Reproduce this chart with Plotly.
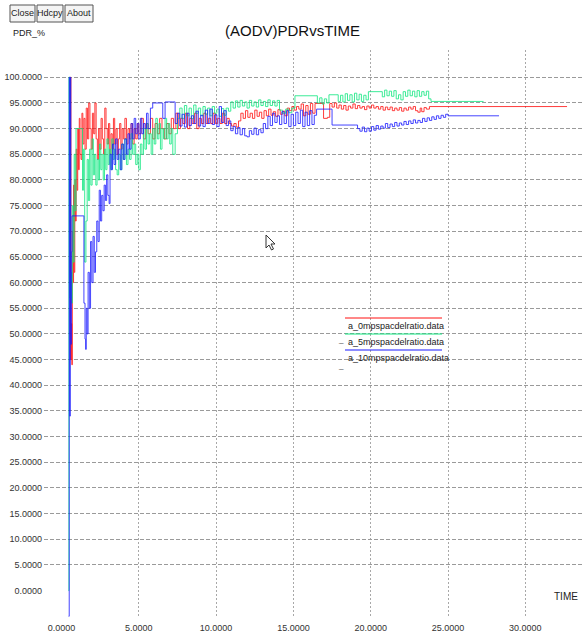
import plotly.graph_objects as go

# ---- data: PDR (%) over simulation time for three node speeds ----
names = ["a_0mpspacdelratio.data", "a_5mpspacdelratio.data", "a_10mpspacdelratio.data"]
colors = ["#ff1010", "#10e880", "#1a1aff"]

t_0mps = [0.56, 0.58, 0.61, 0.64, 0.67, 0.70, 0.74, 0.78, 0.82, 0.86, 0.90, 0.95, 1.00, 1.05, 1.10, 1.15,
          1.20, 1.26, 1.32, 1.38, 1.45, 1.52, 1.60, 1.68, 1.76, 1.84, 1.92, 2.00, 2.08, 2.16, 2.24, 2.32,
          2.40, 2.48, 2.56, 2.64, 2.72, 2.80, 2.88, 2.96, 3.04, 3.12, 3.20, 3.28, 3.36, 3.44, 3.52, 3.60,
          3.68, 3.76, 3.84, 3.92, 4.00, 4.10, 4.20, 4.30, 4.40, 4.50, 4.60, 4.70, 4.80, 4.90, 5.00, 5.15,
          5.30, 5.45, 5.60, 5.75, 5.90, 6.05, 6.20, 6.35, 6.50, 6.65, 6.80, 6.95, 7.10, 7.25, 7.40, 7.55,
          7.70, 7.85, 8.00, 8.15, 8.30, 8.45, 8.60, 8.75, 8.90, 9.05, 9.20, 9.35, 9.50, 9.65, 9.80, 9.95,
          10.10, 10.25, 10.40, 10.55, 10.70, 10.85, 11.00, 11.15, 11.30, 11.45, 11.60, 11.75, 11.90, 12.05,
          12.20, 12.35, 12.50, 12.65, 12.80, 12.95, 13.10, 13.25, 13.40, 13.55, 13.70, 13.85, 14.00, 14.15,
          14.30, 14.45, 14.60, 14.75, 14.90, 15.05, 15.20, 15.35, 15.50, 15.65, 15.80, 15.95, 16.10, 16.25,
          16.40, 16.85, 16.95, 17.20, 17.35, 17.50, 17.65, 17.80, 17.95, 18.10, 18.25, 18.40, 18.55, 18.70,
          18.85, 19.00, 19.15, 19.30, 19.45, 19.60, 19.75, 19.90, 20.05, 20.20, 20.35, 20.50, 20.65, 20.80,
          20.95, 21.10, 21.25, 21.40, 21.55, 21.70, 21.85, 22.00, 22.15, 22.30, 22.45, 22.60, 22.75, 22.90,
          23.05, 23.20, 23.30, 23.45, 23.60, 23.80, 32.70]
pdr_0mps = [45, 100, 45, 52, 44, 70, 60, 79, 62, 80, 72, 86, 78, 90, 82, 92,
            85, 84, 93, 87, 92, 86, 94, 88, 95, 90, 86, 93, 89, 95, 88, 84,
            90, 86, 92, 88, 85, 94, 90, 87, 91, 85, 89, 86, 92, 87, 90, 85,
            88, 91, 86, 90, 88, 92, 87, 90, 88, 91, 87, 90, 88, 91, 89, 92,
            88, 91, 89, 92, 88, 91, 89, 92, 90, 88, 91, 89, 92, 90, 93, 90,
            92, 91, 93, 90, 92, 91, 93, 90, 92, 91, 93, 91, 92, 91, 93, 91,
            92, 91, 93, 91, 92, 91, 90.5, 91, 90.3, 91.5, 93, 92, 93.5, 92.2,
            93, 92, 93.6, 92.4, 93.2, 92, 93.5, 92.5, 93.8, 92.6, 93.3, 92.4, 93.7, 92.8,
            93.4, 92.5, 94, 93.5, 94.3, 93.6, 94.3, 93.8, 94.8, 92.5, 94.5, 92.8, 94.9, 93,
            94.9, 94.9, 92, 92.2, 94.9, 94.2, 95, 94, 94.6, 93.8, 94.5, 93.6, 94.4, 94,
            94.8, 93.9, 94.5, 94, 94.3, 93.7, 94.4, 94, 94.6, 94, 94.3, 93.8, 94.3, 93.6,
            94.2, 93.7, 94.2, 93.5, 94, 93.6, 94.1, 93.4, 94, 93.6, 94.2, 93.8, 94.3, 93.5,
            93.2, 94, 93.3, 94.1, 93.8, 94.3, 94.3]

t_5mps = [0.45, 0.48, 0.54, 0.60, 0.65, 0.70, 0.76, 0.82, 0.88, 0.94, 1.30, 1.36, 1.42, 1.50, 1.58, 1.66,
          1.74, 1.82, 1.90, 1.98, 2.06, 2.14, 2.22, 2.30, 2.38, 2.46, 2.54, 2.62, 2.70, 2.78, 2.86, 2.94,
          3.02, 3.10, 3.18, 3.26, 3.34, 3.42, 3.50, 3.60, 3.70, 3.80, 3.90, 4.00, 4.10, 4.20, 4.30, 4.40,
          4.50, 4.60, 4.70, 4.80, 4.90, 5.00, 5.10, 5.20, 5.30, 5.40, 5.50, 5.60, 5.70, 5.80, 5.90, 6.00,
          6.10, 6.20, 6.30, 6.40, 6.50, 6.60, 6.70, 6.80, 6.90, 7.00, 7.10, 7.20, 7.35, 7.50, 7.65, 7.80,
          7.95, 8.10, 8.25, 8.40, 8.55, 8.70, 8.85, 9.00, 9.15, 9.30, 9.45, 9.60, 9.75, 9.90, 10.05, 10.20,
          10.35, 10.50, 10.65, 10.80, 10.95, 11.10, 11.25, 11.40, 11.55, 11.70, 11.85, 12.00, 12.15, 12.30,
          12.45, 12.60, 12.75, 12.90, 13.05, 13.20, 13.35, 13.50, 13.65, 13.80, 13.95, 14.10, 14.30, 14.50,
          14.70, 14.90, 15.10, 16.40, 16.55, 16.70, 16.85, 17.00, 17.15, 17.30, 17.75, 17.90, 18.05, 18.20,
          18.35, 18.50, 18.65, 18.80, 18.95, 19.10, 19.25, 19.40, 19.55, 19.70, 19.85, 20.60, 20.75, 20.90,
          21.05, 21.20, 21.35, 21.50, 21.65, 21.80, 21.95, 22.10, 22.25, 22.40, 22.55, 22.70, 22.85, 23.00,
          23.15, 23.30, 23.45, 23.60, 23.75, 23.90, 27.30]
pdr_5mps = [0, 100, 57, 62, 56, 75, 64, 85, 74, 90, 90, 78, 86, 64, 72, 84,
            76, 86, 79, 88, 81, 85, 79, 84, 80, 87, 82, 85, 80, 86, 82, 88,
            83, 86, 82, 88, 84, 86, 82, 81, 85, 82, 87, 84, 88, 83, 86, 84,
            89, 85, 87, 83, 85, 82, 87, 85, 90, 86, 91, 87, 89, 85, 90, 87,
            92, 88, 91, 86, 90, 88, 92, 88, 91, 87, 90, 85, 89, 92, 94, 92,
            94.5, 92.5, 94, 92, 94.6, 93, 94, 92.5, 94.3, 92.8, 94, 92.5, 94.3, 93, 93.8, 92.4,
            93.9, 92.6, 94, 93.4, 95.2, 94, 95.4, 94.2, 95.5, 94.4, 95.2, 94, 95.5, 94.4,
            95.2, 94.2, 95.6, 94.5, 95.3, 94.3, 95.6, 94.5, 95.4, 94.4, 95.5, 93.6, 93, 93.8,
            93.1, 94, 96.4, 96.4, 95, 96, 94.8, 95.8, 95, 96.6, 96.6, 95.3, 96.5, 95.2,
            96.8, 95.5, 96.6, 95.2, 96.9, 95.6, 96.7, 95.3, 96.5, 95.6, 97.2, 97.2, 96.2, 97.5,
            96.4, 97.3, 96.3, 97.4, 95.8, 96.6, 95.6, 97.2, 96.3, 97.5, 96.4, 97.3, 96.2, 97.4,
            96.3, 97.2, 96.5, 97.3, 95.8, 95.3, 95.3]

t_10mps = [0.46, 0.50, 0.53, 0.57, 0.60, 0.64, 0.68, 1.26, 1.45, 1.52, 1.56, 1.60, 1.66, 1.72, 1.80, 1.88,
           1.96, 2.04, 2.12, 2.20, 2.28, 2.36, 2.44, 2.52, 2.60, 2.68, 2.76, 2.84, 2.92, 3.00, 3.08, 3.14,
           3.22, 3.30, 3.40, 3.50, 3.60, 3.70, 3.80, 3.90, 4.00, 4.10, 4.20, 4.30, 4.40, 4.50, 4.60, 4.70,
           4.80, 4.90, 5.00, 5.10, 5.20, 5.30, 5.40, 5.50, 5.60, 5.75, 5.90, 6.40, 6.55, 6.70, 7.20, 7.35,
           7.50, 7.65, 7.80, 7.95, 8.10, 8.25, 8.40, 8.55, 8.70, 8.85, 9.00, 9.15, 9.30, 9.45, 9.60, 9.75,
           9.90, 10.05, 10.20, 10.35, 10.50, 10.65, 10.80, 10.95, 11.10, 11.25, 11.40, 11.55, 11.70, 11.85,
           12.00, 12.15, 12.30, 12.45, 12.60, 12.75, 12.90, 13.05, 13.20, 13.35, 13.50, 13.65, 13.80, 13.95,
           14.10, 14.25, 14.40, 14.55, 14.70, 14.85, 15.00, 15.15, 15.30, 15.45, 15.60, 15.75, 15.90, 16.05,
           16.20, 16.35, 16.50, 17.40, 17.50, 19.00, 19.15, 19.30, 19.45, 19.60, 19.75, 19.90, 20.05, 20.20,
           20.35, 20.50, 20.65, 20.80, 20.95, 21.10, 21.25, 21.40, 21.55, 21.70, 21.85, 22.00, 22.15, 22.30,
           22.45, 22.60, 22.75, 22.90, 23.05, 23.20, 23.35, 23.50, 23.65, 23.80, 23.95, 24.10, 24.25, 24.40,
           24.55, 24.70, 24.85, 25.00, 28.30]
pdr_10mps = [-5, 100, 34, 100, 48, 66, 73, 73, 56, 49, 47, 55, 50, 62, 55, 68,
             60, 69, 62, 66, 72, 68, 78, 72, 77, 74, 79, 76, 81, 77, 75.4, 85,
             82, 87, 83, 88, 84, 86, 82, 87, 84, 88, 85, 89, 86, 91, 88, 92,
             89, 91, 88, 92, 89, 91, 90, 93, 90, 94, 95, 95, 92, 95.2, 95.2, 91,
             93, 90.5, 92.8, 90.3, 93, 90.6, 92.5, 91, 93.4, 90.5, 92.6, 90.4, 93.6, 91, 93.8, 90.8,
             92.7, 90.4, 94.3, 91.2, 93.5, 90.6, 91.5, 89.6, 90.4, 89, 90.2, 88.8, 90, 88.6,
             88.4, 89.6, 88.9, 90.1, 88.8, 89.8, 89.2, 91, 90, 92.4, 90.6, 93, 91.2, 92.5,
             90.8, 93.3, 91, 93.5, 90.4, 92.8, 90.6, 93.2, 91, 93.6, 90.4, 93.2, 90.6, 93.5,
             90.8, 92.6, 93.8, 93.8, 90.7, 90.7, 90, 89.5, 90.3, 89.4, 90.1, 89.5, 90.4, 89.7,
             90.6, 89.9, 90.5, 90.1, 91, 90.2, 90.9, 90.4, 91.2, 90.5, 91.1, 90.7, 91.4, 90.8,
             91.5, 91, 91.7, 91.1, 91.6, 91.2, 92, 91.4, 92.1, 91.6, 92.3, 91.8, 92.5, 92,
             92.6, 92.2, 92.8, 92.5, 92.5]

x_ticks = [0, 5, 10, 15, 20, 25, 30]
y_ticks = list(range(0, 101, 5))
chart_title = "(AODV)PDRvsTIME"
x_label = "TIME"
y_label = "PDR_%"
buttons = ["Close", "Hdcpy", "About"]

# ---- geometry of the drawing area (pixels) ----
W, H = 582, 636
L, R, T, B = 44, 582, 50, 618


def px(x, y):
    """pixel position -> paper coordinates"""
    return (x - L) / (R - L), (B - y) / (B - T)


FONT = "Liberation Sans, Arial, sans-serif"
fig = go.Figure()

series = [(t_0mps, pdr_0mps), (t_5mps, pdr_5mps), (t_10mps, pdr_10mps)]
for (tt, vv), name, col in zip(series, names, colors):
    fig.add_trace(go.Scatter(x=tt, y=vv, mode="lines", name=name, opacity=0.9,
                             line=dict(color=col, width=0.9, shape="hv"),
                             showlegend=False, hoverinfo="skip"))

shapes = []
annotations = []

# legend: sample line above each label
leg_x0, leg_x1 = 345, 442
leg_line_y = [318, 334, 350]
for name, col, ly in zip(names, colors, leg_line_y):
    a, b = px(leg_x0, ly)
    c, _ = px(leg_x1, ly)
    shapes.append(dict(type="line", xref="paper", yref="paper", x0=a, x1=c, y0=b, y1=b,
                       line=dict(color=col, width=1)))
    tx, ty = px(346, ly + 8)
    annotations.append(dict(text=name, xref="paper", yref="paper", x=tx, y=ty,
                            xanchor="left", yanchor="middle", showarrow=False,
                            font=dict(family=FONT, size=9, color="#222")))
for (ux, uy) in [(341, 339), (341, 365)]:
    tx, ty = px(ux, uy)
    annotations.append(dict(text="_", xref="paper", yref="paper", x=tx, y=ty,
                            xanchor="center", yanchor="middle", showarrow=False,
                            font=dict(family=FONT, size=8, color="#444")))

# window buttons
btn_x = [(10, 35), (37, 63), (65, 93)]
for label, (bx0, bx1) in zip(buttons, btn_x):
    a, b = px(bx0, 5)
    c, d = px(bx1, 22)
    shapes.append(dict(type="rect", xref="paper", yref="paper", x0=a, x1=c, y0=d, y1=b,
                       line=dict(color="#555", width=1), fillcolor="#f4f4f4"))
    tx, ty = px((bx0 + bx1) / 2, 13.5)
    annotations.append(dict(text=label, xref="paper", yref="paper", x=tx, y=ty,
                            xanchor="center", yanchor="middle", showarrow=False,
                            font=dict(family=FONT, size=9, color="#222")))

# title and axis names
tx, ty = px(292, 30)
annotations.append(dict(text=chart_title, xref="paper", yref="paper", x=tx, y=ty,
                        xanchor="center", yanchor="middle", showarrow=False,
                        font=dict(family=FONT, size=15, color="#111")))
tx, ty = px(11, 33)
annotations.append(dict(text=y_label, xref="paper", yref="paper", x=tx, y=ty,
                        xanchor="left", yanchor="middle", showarrow=False,
                        font=dict(family=FONT, size=9, color="#222")))
tx, ty = px(580, 596)
annotations.append(dict(text=x_label, xref="paper", yref="paper", x=tx, y=ty,
                        xanchor="right", yanchor="middle", showarrow=False,
                        font=dict(family=FONT, size=10, color="#222")))

# mouse pointer left on the canvas
cur = [(0, 0), (0, 13), (3, 10), (5.5, 15), (7.5, 14), (5, 9), (9, 9)]
cx, cy = 266, 235
pts = [px(cx + dx, cy + dy) for dx, dy in cur]
path = "M " + " L ".join(f"{p[0]:.5f},{p[1]:.5f}" for p in pts) + " Z"
shapes.append(dict(type="path", xref="paper", yref="paper", path=path,
                   fillcolor="white", line=dict(color="#333", width=1)))

# axis ranges from the pixel frame
x_per_px = 1 / 15.46
y_per_px = 1 / 5.133
x_zero_px, y_zero_px = 61.5, 590.6

fig.update_layout(
    width=W, height=H,
    margin=dict(l=L, r=W - R, t=T, b=H - B, pad=0),
    paper_bgcolor="white", plot_bgcolor="white",
    shapes=shapes, annotations=annotations,
    xaxis=dict(range=[(L - x_zero_px) * x_per_px, (R - x_zero_px) * x_per_px],
               tickvals=x_ticks, tickformat=".4f", ticks="", ticklabelstandoff=3,
               showgrid=True, gridcolor="#a8a8a8", gridwidth=1, griddash="2px,2px",
               zeroline=True, zerolinecolor="rgba(0,0,0,0)", showline=False,
               tickfont=dict(family=FONT, size=9, color="#333"), fixedrange=True),
    yaxis=dict(range=[(y_zero_px - B) * y_per_px, (y_zero_px - T) * y_per_px],
               tickvals=y_ticks, tickformat=".4f", ticks="", ticklabelstandoff=1,
               showgrid=True, gridcolor="#9a9a9a", gridwidth=1, griddash="4px,2px",
               zeroline=True, zerolinecolor="rgba(0,0,0,0)", showline=False,
               tickfont=dict(family=FONT, size=9, color="#333"), fixedrange=True),
)

fig.write_html("out.html", config={"displayModeBar": False})
